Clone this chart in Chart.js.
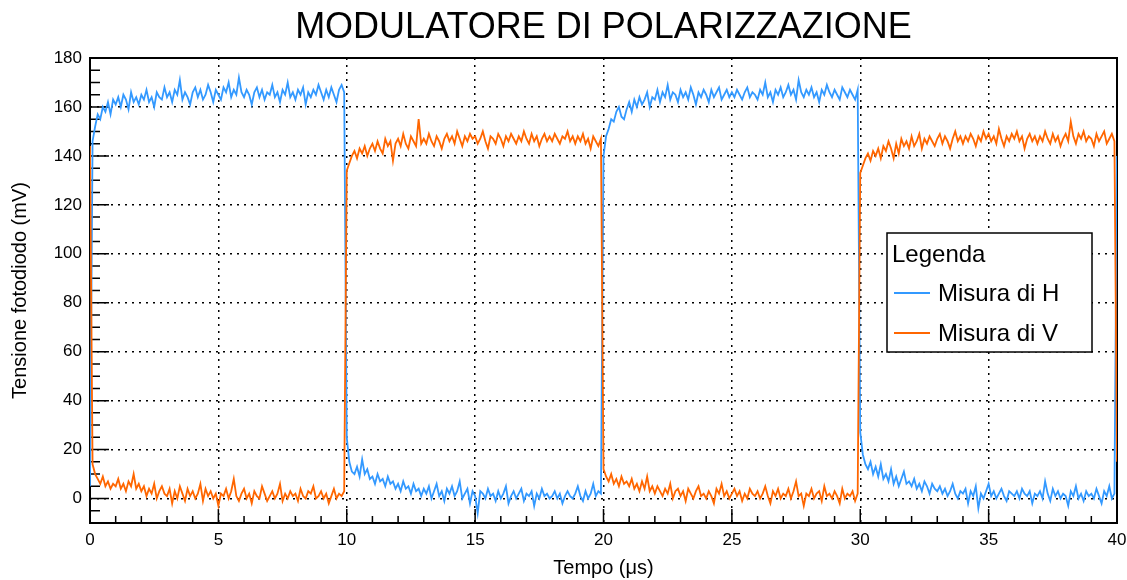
<!DOCTYPE html>
<html lang="it">
<head>
<meta charset="utf-8">
<title>Modulatore di polarizzazione</title>
<script src="https://cdn.jsdelivr.net/npm/chart.js@4/dist/chart.umd.min.js"></script>
<style>
  html, body { margin: 0; padding: 0; background: #fff; }
  canvas { display: block; }
</style>
</head>
<body>
<canvas id="grafico" width="1127" height="580"></canvas>
<script>
const FONT = "'Liberation Sans', Arial, Helvetica, sans-serif";

// campionamento dell'oscilloscopio (µs)
const passo = 0.1;
const tickX = [0, 5, 10, 15, 20, 25, 30, 35, 40];
const tickY = [0, 20, 40, 60, 80, 100, 120, 140, 160, 180];

const misuraH = [
  5,
  146, 152, 157, 155, 160, 158, 162, 157, 163,
  161, 164, 160, 165, 163, 159, 166, 162, 164, 161,
  165, 163, 167, 162, 164, 160, 166, 164, 163, 168,
  164, 166, 162, 167, 165, 171, 163, 166, 164, 161,
  166, 168, 164, 167, 163, 165, 169, 166, 162, 167,
  165, 163, 168, 166, 170, 164, 167, 165, 172, 166,
  164, 167, 165, 161, 166, 168, 164, 167, 163, 166,
  165, 169, 164, 166, 162, 167, 165, 170, 164, 166,
  163, 167, 165, 168, 161, 166, 164, 167, 165, 169,
  166, 163, 167, 164, 168, 165, 162, 167, 169, 166,
  25,
  15, 11, 10, 13, 9, 16, 10, 12, 8,
  9, 6, 10, 7, 8, 5, 9, 6, 7, 4,
  6, 3, 7, 4, 5, 2, 6, 3, 4, 1,
  4, 2, 5, 0, 3, 6, 1, 3, -1, 4,
  2, 5, 1, 3, 7, 0, 2, 4, -2, 3,
  1, -6, 3, 2, 0, 4, 1, 2, -1, 3,
  0, 2, 5, -2, 1, 3, 0, 2, 4, -1,
  2, 1, 3, -3, 2, 0, 4, 1, 2, 0,
  1, 3, 0, 2, -2, 1, 3, 1, 0, 2,
  5, 1, -1, 3, 0, 2, 6, 1, 3, 2,
  140,
  148, 151, 155, 154, 158, 160, 156, 155, 159,
  162, 158, 163, 160, 164, 161, 163, 166, 160, 164,
  163, 167, 162, 166, 164, 169, 163, 166, 165, 162,
  167, 164, 166, 163, 168, 165, 161, 166, 164, 167,
  165, 162, 167, 164, 166, 168, 163, 165, 167, 164,
  166, 164, 167, 165, 163, 166, 168, 164, 166, 165,
  163, 167, 165, 170, 164, 166, 162, 167, 165, 168,
  164, 166, 169, 165, 167, 163, 171, 166, 164, 167,
  165, 168, 164, 166, 162, 167, 165, 169, 166, 164,
  167, 165, 163, 168, 166, 164, 167, 165, 163, 167,
  27,
  18, 14, 12, 15, 10, 13, 9, 14, 8,
  10, 7, 12, 6, 9, 5, 8, 11, 6, 7,
  5, 8, 4, 6, 3, 7, 5, 2, 6, 4,
  3, 5, 2, 4, 1, 3, 6, 2, 0, 3,
  2, 4, -2, 3, 1, 5, -4, 2, 0, 3,
  6, 1, 3, 0, 2, 4, 1, -1, 3, 2,
  1, 3, 0, 4, 2, 1, 3, -2, 2, 1,
  3, 0, 7, 2, -1, 4, 1, 3, 0, 2,
  1, -3, 3, 1, 5, 0, 2, -1, 3, 1,
  2, 0, 4, 1, -2, 3, 1, 5, 0, 2,
  140
];

const misuraV = [
  144,
  14, 10, 8, 6, 9, 5, 7, 4, 6,
  5, 8, 4, 6, 3, 7, 5, 10, 4, 6,
  3, 5, 1, 4, 2, 6, 0, 3, 5, 2,
  1, 4, -2, 3, 0, 5, 2, -1, 4, 1,
  3, 0, 2, 6, -1, 4, 1, 3, 0, 2,
  -3, 2, 1, 4, 0, 3, 8, 1, -1, 2,
  4, 0, 2, -2, 3, 1, 0, 5, 2, -1,
  1, 3, 0, 2, 6, -1, 2, 0, 3, 1,
  2, -1, 4, 1, 0, 3, 2, 5, 0, 1,
  3, 0, 2, -2, 1, 4, 0, 2, 1, 3,
  134,
  137, 140, 142, 139, 143, 141, 144, 140, 143,
  145, 142, 146, 143, 141, 147, 144, 146, 138, 145,
  147, 144, 149, 145, 143, 148, 146, 144, 155, 145,
  147, 145, 149, 146, 144, 148, 146, 143, 147, 149,
  146, 148, 145, 150, 147, 144, 148, 146, 149, 147,
  148, 145, 147, 150, 146, 143, 148, 147, 145, 149,
  147, 144, 148, 146, 149, 147, 145, 148, 146, 150,
  147, 145, 149, 146, 148, 144, 147, 149, 146, 148,
  146, 149, 147, 145, 148, 147, 150, 146, 148, 145,
  148, 146, 149, 145, 147, 143, 148, 146, 144, 147,
  12,
  9, 7, 10, 6, 8, 5, 9, 6, 7,
  5, 8, 4, 6, 3, 7, 4, 9, 3, 5,
  2, 5, 3, 1, 4, 2, 6, 0, 3, 4,
  1, 3, -1, 4, 2, 0, 3, 5, 1, 2,
  0, 3, 1, -2, 4, 2, 6, 1, 3, 0,
  2, 4, 1, 3, -1, 2, 0, 4, 2, 1,
  3, 0, 2, 5, 1, -2, 3, 1, 4, 0,
  2, 1, 4, 0, 3, 7, 1, 2, -3, 2,
  1, 4, 0, 2, 3, -1, 5, 1, 2, 0,
  3, 1, -2, 4, 0, 2, 1, 3, -1, 2,
  133,
  136, 139, 141, 138, 142, 140, 143, 139, 144,
  142, 146, 143, 139, 145, 141, 147, 144, 146, 143,
  148, 144, 146, 149, 143, 147, 145, 148, 146, 144,
  147, 149, 145, 148, 146, 143, 147, 150, 146, 148,
  145, 148, 146, 149, 147, 144, 148, 146, 150, 147,
  149, 146, 148, 145, 151, 147, 144, 148, 146, 149,
  147, 150, 146, 148, 143, 147, 149, 146, 148, 145,
  148, 146, 150, 147, 145, 149, 146, 148, 144, 147,
  149, 146, 154, 148, 145, 149, 147, 150, 146, 148,
  147, 144, 149, 146, 148, 150, 145, 147, 149, 146,
  15
];

const punti = (serie) => serie.map((v, i) => ({ x: +(i * passo).toFixed(1), y: v }));

// cornice e tacche interne, stile ROOT
const cornice = {
  id: 'cornice',
  beforeDatasetsDraw(chart) {
    const { ctx, chartArea: a, scales: { x, y } } = chart;
    ctx.save();
    ctx.strokeStyle = '#000';
    ctx.lineWidth = 2;
    ctx.strokeRect(a.left, a.top, a.width, a.height);
    ctx.lineWidth = 1.5;
    ctx.beginPath();
    for (let t = 0; t <= 40; t += 1) {
      const px = x.getPixelForValue(t);
      const len = t % 5 === 0 ? 14 : 7;
      ctx.moveTo(px, a.bottom);
      ctx.lineTo(px, a.bottom - len);
    }
    for (let v = -5; v <= 180; v += 5) {
      const py = y.getPixelForValue(v);
      const len = v % 20 === 0 ? 19 : 10;
      ctx.moveTo(a.left, py);
      ctx.lineTo(a.left + len, py);
    }
    ctx.stroke();
    ctx.restore();
  }
};

// riquadro della legenda
const legenda = {
  id: 'legenda',
  afterDraw(chart) {
    const { ctx } = chart;
    const bx = 887, by = 233, bw = 205, bh = 119;
    ctx.save();
    ctx.fillStyle = '#fff';
    ctx.fillRect(bx, by, bw, bh);
    ctx.strokeStyle = '#000';
    ctx.lineWidth = 1.5;
    ctx.strokeRect(bx, by, bw, bh);
    ctx.fillStyle = '#000';
    ctx.font = '24px ' + FONT;
    ctx.textBaseline = 'alphabetic';
    ctx.fillText('Legenda', bx + 5, by + 29);
    chart.data.datasets.forEach((ds, i) => {
      const yl = by + 60 + i * 40;
      ctx.strokeStyle = ds.borderColor;
      ctx.lineWidth = 2;
      ctx.beginPath();
      ctx.moveTo(bx + 7, yl);
      ctx.lineTo(bx + 43, yl);
      ctx.stroke();
      ctx.fillText(ds.label, bx + 51, yl + 8);
    });
    ctx.restore();
  }
};

new Chart(document.getElementById('grafico'), {
  type: 'line',
  data: {
    datasets: [
      {
        label: 'Misura di H',
        data: punti(misuraH),
        borderColor: '#3399ff',
        borderWidth: 1.8,
        pointRadius: 0,
        tension: 0,
        order: 2
      },
      {
        label: 'Misura di V',
        data: punti(misuraV),
        borderColor: '#ff6600',
        borderWidth: 1.8,
        pointRadius: 0,
        tension: 0,
        order: 1
      }
    ]
  },
  options: {
    responsive: false,
    animation: false,
    layout: { padding: { top: 0, right: 10, bottom: 0, left: 0 } },
    plugins: {
      legend: { display: false },
      tooltip: { enabled: false },
      title: {
        display: true,
        text: 'MODULATORE DI POLARIZZAZIONE',
        color: '#000',
        fullSize: false,
        font: { family: FONT, size: 36, weight: 'normal' },
        padding: { top: 6.5, bottom: 8.3 }
      }
    },
    scales: {
      x: {
        type: 'linear',
        min: 0,
        max: 40,
        afterFit: (s) => { s.height = 57; s.paddingLeft = 0; s.paddingRight = 0; },
        afterBuildTicks: (s) => { s.ticks = tickX.map(v => ({ value: v })); },
        ticks: { color: '#000', padding: 7, font: { family: FONT, size: 17 } },
        grid: { color: '#000', lineWidth: 1.5, drawTicks: false },
        border: { display: false, dash: [2, 5] },
        title: {
          display: true,
          text: 'Tempo (μs)',
          color: '#000',
          font: { family: FONT, size: 20 },
          padding: { top: 0, bottom: 0 }
        }
      },
      y: {
        type: 'linear',
        min: -10,
        max: 180,
        afterFit: (s) => { s.width = 90; },
        afterBuildTicks: (s) => { s.ticks = tickY.map(v => ({ value: v })); },
        ticks: { color: '#000', padding: 8, font: { family: FONT, size: 17 } },
        grid: { color: '#000', lineWidth: 1.5, drawTicks: false },
        border: { display: false, dash: [2, 5] },
        title: {
          display: true,
          text: 'Tensione fotodiodo (mV)',
          color: '#000',
          font: { family: FONT, size: 20 },
          padding: { top: 8, bottom: 0 }
        }
      }
    }
  },
  plugins: [cornice, legenda]
});
</script>
</body>
</html>
